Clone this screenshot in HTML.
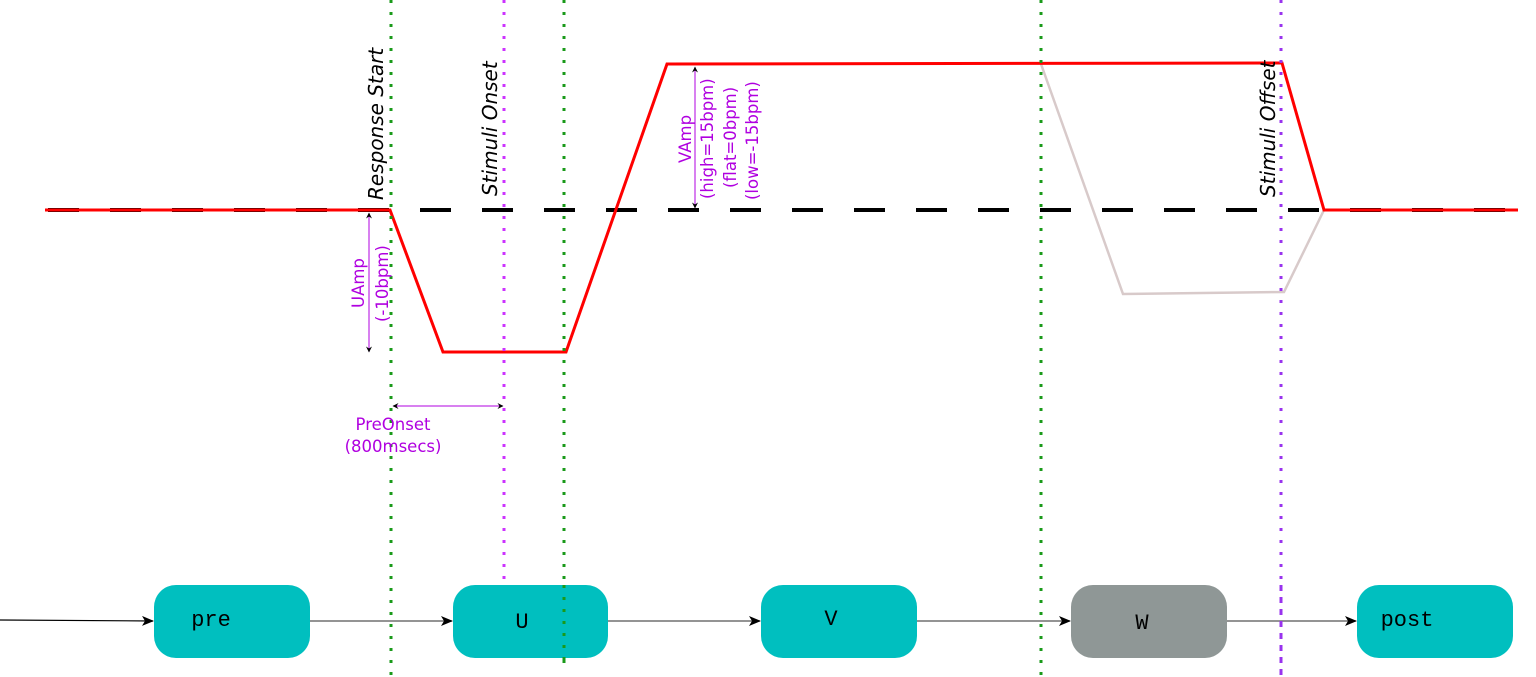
<!DOCTYPE html>
<html><head><style>html,body{margin:0;padding:0;background:#fff}svg{display:block}</style></head>
<body>
<svg width="1536" height="677" viewBox="0 0 1536 677" xmlns="http://www.w3.org/2000/svg">
<defs>
<marker id="a" markerWidth="12" markerHeight="10" refX="11" refY="5" orient="auto" markerUnits="userSpaceOnUse"><path d="M0,0 L12,5 L0,10 L3,5 z" fill="#000"/></marker>
<marker id="s" markerWidth="6" markerHeight="6" refX="5.5" refY="3" orient="auto" markerUnits="userSpaceOnUse"><path d="M0,0 L6,3 L0,6 L2,3 z" fill="#000"/></marker>
<marker id="s2" markerWidth="6" markerHeight="6" refX="0.5" refY="3" orient="auto" markerUnits="userSpaceOnUse"><path d="M6,0 L0,3 L6,6 L4,3 z" fill="#000"/></marker>
</defs>
<line x1="48" y1="210" x2="1515" y2="210" stroke="#000" stroke-width="4" stroke-dasharray="31 31"/>
<polyline points="1041,64 1123,294 1284,292 1324,210" fill="none" stroke="#d8caca" stroke-width="2.5"/>
<polyline points="45,210 390,210 443,352 566,352 667,64 1282,63 1324,210 1518,210" fill="none" stroke="#f00" stroke-width="3"/>
<line x1="391" y1="0" x2="391" y2="677" stroke="#1a9a1a" stroke-width="3" stroke-dasharray="3 9"/>
<line x1="564" y1="0" x2="564" y2="668" stroke="#1a9a1a" stroke-width="3" stroke-dasharray="3 9"/>
<line x1="1041" y1="0" x2="1041" y2="675" stroke="#1a9a1a" stroke-width="3" stroke-dasharray="3 9"/>
<line x1="504" y1="0" x2="504" y2="580" stroke="#cc33ff" stroke-width="3" stroke-dasharray="3 9"/>
<line x1="1281" y1="0" x2="1281" y2="677" stroke="#9933ee" stroke-width="3" stroke-dasharray="3 9"/>
<g font-family="DejaVu Sans, Liberation Sans, sans-serif" font-style="italic" font-size="20" fill="#000">
<text transform="translate(383,200) rotate(-90)">Response Start</text>
<text transform="translate(497,196) rotate(-90)">Stimuli Onset</text>
<text transform="translate(1275,197) rotate(-90)">Stimuli Offset</text>
</g>
<line x1="369" y1="213" x2="369" y2="352" stroke="#b000e0" stroke-width="1" marker-start="url(#s2)" marker-end="url(#s)"/>
<line x1="393" y1="406" x2="503" y2="406" stroke="#b000e0" stroke-width="1" marker-start="url(#s2)" marker-end="url(#s)"/>
<line x1="695" y1="67" x2="695" y2="208" stroke="#b000e0" stroke-width="1" marker-start="url(#s2)" marker-end="url(#s)"/>
<g font-family="DejaVu Sans, Liberation Sans, sans-serif" font-size="16.5" fill="#b000e0">
<text transform="translate(364,308) rotate(-90)">UAmp</text>
<text transform="translate(388,322) rotate(-90)">(-10bpm)</text>
<text text-anchor="middle" x="393" y="430">PreOnset</text>
<text text-anchor="middle" x="393" y="452">(800msecs)</text>
<text transform="translate(691,163) rotate(-90)">VAmp</text>
<text transform="translate(713,199) rotate(-90)">(high=15bpm)</text>
<text transform="translate(736,188) rotate(-90)">(flat=0bpm)</text>
<text transform="translate(758,200) rotate(-90)">(low=-15bpm)</text>
</g>
<g stroke="#000" stroke-width="1.2">
<line x1="0" y1="620" x2="153" y2="621" marker-end="url(#a)"/>
<line x1="310" y1="621" x2="452" y2="621" marker-end="url(#a)" stroke="#555"/>
<line x1="608" y1="621" x2="760" y2="621" marker-end="url(#a)" stroke="#555"/>
<line x1="917" y1="621" x2="1070" y2="621" marker-end="url(#a)" stroke="#555"/>
<line x1="1227" y1="621" x2="1356" y2="621" marker-end="url(#a)" stroke="#555"/>
</g>
<g>
<rect x="154" y="585" width="156" height="73" rx="22" fill="#00bfbf"/>
<rect x="453" y="585" width="155" height="73" rx="22" fill="#00bfbf"/>
<rect x="761" y="585" width="156" height="73" rx="22" fill="#00bfbf"/>
<rect x="1071" y="585" width="156" height="73" rx="22" fill="#8f9796"/>
<rect x="1357" y="585" width="156" height="73" rx="22" fill="#00bfbf"/>
</g>
<line x1="564" y1="585" x2="564" y2="668" stroke="#1a9a1a" stroke-width="3" stroke-dasharray="3 9"/>
<line x1="1281" y1="585" x2="1281" y2="677" stroke="#9933ee" stroke-width="3" stroke-dasharray="3 9"/>
<g font-family="Liberation Mono, monospace" font-size="22" fill="#000" text-anchor="middle">
<text x="211" y="626">pre</text>
<text x="522" y="628">U</text>
<text x="831" y="625">V</text>
<text x="1142" y="629">W</text>
<text x="1407" y="626">post</text>
</g>
</svg>
</body></html>
